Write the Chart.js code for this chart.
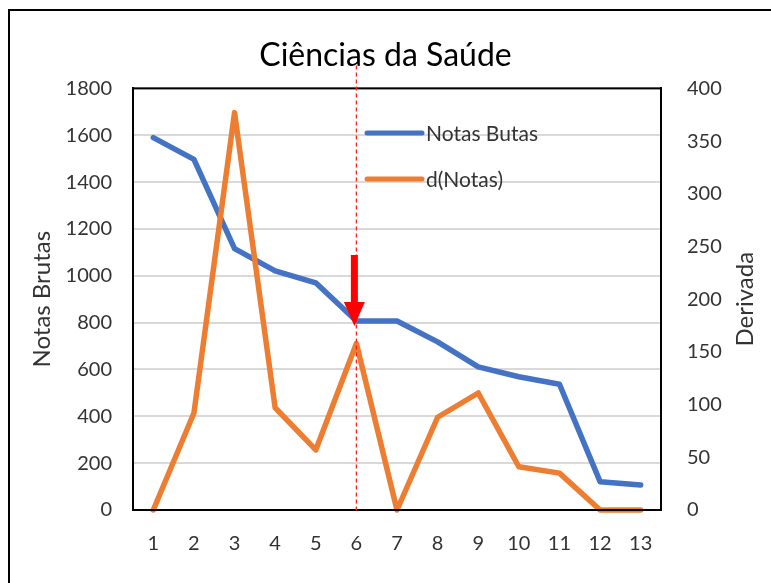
<!DOCTYPE html>
<html>
<head>
<meta charset="utf-8">
<script src="https://cdn.jsdelivr.net/npm/chart.js@4.4.1/dist/chart.umd.min.js"></script>
<style>
html,body{margin:0;padding:0;background:#fff;}
#wrap{width:771px;height:583px;position:relative;}
</style>
</head>
<body>
<div id="wrap"><canvas id="c" width="771" height="583"></canvas></div>
<script>
const categories = ['1','2','3','4','5','6','7','8','9','10','11','12','13'];
const notasBrutas = [1590, 1497, 1116, 1021, 970, 807, 807, 718, 611, 569, 537, 121, 107];
const derivada = [0, 92, 377, 97, 57, 158, 0, 88, 111, 41, 35, 0, 0];
const seriesNames = ['Notas Butas', 'd(Notas)'];
const chartTitle = 'Ciências da Saúde';
const leftAxisTitle = 'Notas Brutas';
const rightAxisTitle = 'Derivada';
const leftTicks = [0, 200, 400, 600, 800, 1000, 1200, 1400, 1600, 1800];
const rightTicks = [0, 50, 100, 150, 200, 250, 300, 350, 400];
const markerIndex = 5; // category "6"

const FONT = 'Lato, "Open Sans", sans-serif';
const TXT = '#333333';
const BLUE = '#4472C4';
const ORANGE = '#ED7D31';

const decorPlugin = {
  id: 'decor',
  beforeDraw(chart) {
    const ctx = chart.ctx;
    ctx.save();
    ctx.fillStyle = '#fff';
    ctx.fillRect(0, 0, chart.width, chart.height);
    ctx.restore();
  },
  afterDatasetsDraw(chart) {
    const ctx = chart.ctx;
    const a = chart.chartArea;
    const xs = chart.scales.x;
    const ys = chart.scales.y;
    // plot border
    ctx.save();
    ctx.strokeStyle = '#000';
    ctx.lineWidth = 2;
    ctx.strokeRect(a.left, a.top, a.right - a.left, a.bottom - a.top);
    ctx.restore();
    // dashed marker line
    const mx = xs.getPixelForValue(markerIndex);
    ctx.save();
    ctx.strokeStyle = '#ff2020';
    ctx.lineWidth = 1.3;
    ctx.setLineDash([4, 3]);
    ctx.beginPath();
    ctx.moveTo(mx, a.top - 23);
    ctx.lineTo(mx, a.bottom + 3);
    ctx.stroke();
    ctx.restore();
    // arrow pointing at the marker point
    const ty = ys.getPixelForValue(notasBrutas[markerIndex]);
    const tx = mx - 2;
    ctx.save();
    ctx.fillStyle = '#ff0000';
    ctx.fillRect(tx - 3.5, ty - 66, 7, 48);
    ctx.beginPath();
    ctx.moveTo(tx - 10.5, ty - 19);
    ctx.lineTo(tx + 10.5, ty - 19);
    ctx.lineTo(tx, ty + 5);
    ctx.closePath();
    ctx.fill();
    ctx.restore();
    // legend
    const lx = 367, lw = 55;
    const rows = [133, 179];
    chart.data.datasets.forEach((ds, i) => {
      ctx.save();
      ctx.strokeStyle = ds.borderColor;
      ctx.lineWidth = 5;
      ctx.lineCap = 'round';
      ctx.beginPath();
      ctx.moveTo(lx, rows[i]);
      ctx.lineTo(lx + lw, rows[i]);
      ctx.stroke();
      ctx.fillStyle = TXT;
      ctx.font = '21px ' + FONT;
      ctx.textBaseline = 'middle';
      ctx.textAlign = 'left';
      ctx.fillText(ds.label, lx + lw + 4, rows[i] + 1);
      ctx.restore();
    });
  },
  afterDraw(chart) {
    const ctx = chart.ctx;
    // outer frame
    ctx.save();
    ctx.strokeStyle = '#000';
    ctx.lineWidth = 2;
    ctx.beginPath();
    ctx.moveTo(9, chart.height + 2);
    ctx.lineTo(9, 10);
    ctx.lineTo(chart.width + 2, 10);
    ctx.stroke();
    // right axis title (reads bottom to top)
    const a = chart.chartArea;
    ctx.translate(745, (a.top + a.bottom) / 2);
    ctx.rotate(-Math.PI / 2);
    ctx.fillStyle = TXT;
    ctx.font = '24px ' + FONT;
    ctx.textAlign = 'center';
    ctx.textBaseline = 'middle';
    ctx.fillText(rightAxisTitle, 0, 0);
    ctx.restore();
  }
};

new Chart(document.getElementById('c'), {
  type: 'line',
  data: {
    labels: categories,
    datasets: [
      {
        label: seriesNames[0],
        data: notasBrutas,
        yAxisID: 'y',
        borderColor: BLUE,
        backgroundColor: BLUE,
        borderWidth: 5.5,
        pointRadius: 0,
        tension: 0,
        borderJoinStyle: 'round',
        borderCapStyle: 'round',
        clip: false,
        order: 2
      },
      {
        label: seriesNames[1],
        data: derivada,
        yAxisID: 'y1',
        borderColor: ORANGE,
        backgroundColor: ORANGE,
        borderWidth: 5.5,
        pointRadius: 0,
        tension: 0,
        borderJoinStyle: 'round',
        borderCapStyle: 'round',
        clip: false,
        order: 1
      }
    ]
  },
  options: {
    responsive: false,
    animation: false,
    layout: { padding: 0 },
    plugins: {
      legend: { display: false },
      tooltip: { enabled: false },
      title: {
        display: true,
        text: chartTitle,
        color: '#000',
        font: { family: FONT, size: 32, weight: 'normal' },
        padding: { top: 36, bottom: 14 }
      }
    },
    scales: {
      x: {
        type: 'category',
        offset: true,
        grid: { display: false, drawTicks: false },
        border: { display: true, color: '#000', width: 2 },
        ticks: { color: TXT, font: { family: FONT, size: 20 }, padding: 22, maxRotation: 0, autoSkip: false },
        afterFit(s) { s.height = 73; }
      },
      y: {
        position: 'left',
        min: 0,
        max: 1800,
        afterBuildTicks(s) { s.ticks = leftTicks.map(v => ({ value: v })); },
        grid: { color: '#d9d9d9', lineWidth: 2, drawTicks: false },
        border: { display: true, color: '#000', width: 2 },
        ticks: { color: TXT, font: { family: FONT, size: 20 }, padding: 21, callback: v => String(v) },
        title: {
          display: true,
          text: leftAxisTitle,
          color: TXT,
          font: { family: FONT, size: 24 },
          padding: { top: 28, bottom: 0 }
        },
        afterFit(s) { s.width = 133; }
      },
      y1: {
        position: 'right',
        min: 0,
        max: 400,
        afterBuildTicks(s) { s.ticks = rightTicks.map(v => ({ value: v })); },
        grid: { display: false, drawTicks: false },
        border: { display: true, color: '#000', width: 2 },
        ticks: { color: TXT, font: { family: FONT, size: 20 }, padding: 26, callback: v => String(v) },
        afterFit(s) { s.width = 110; }
      }
    }
  },
  plugins: [decorPlugin]
});
</script>
</body>
</html>
